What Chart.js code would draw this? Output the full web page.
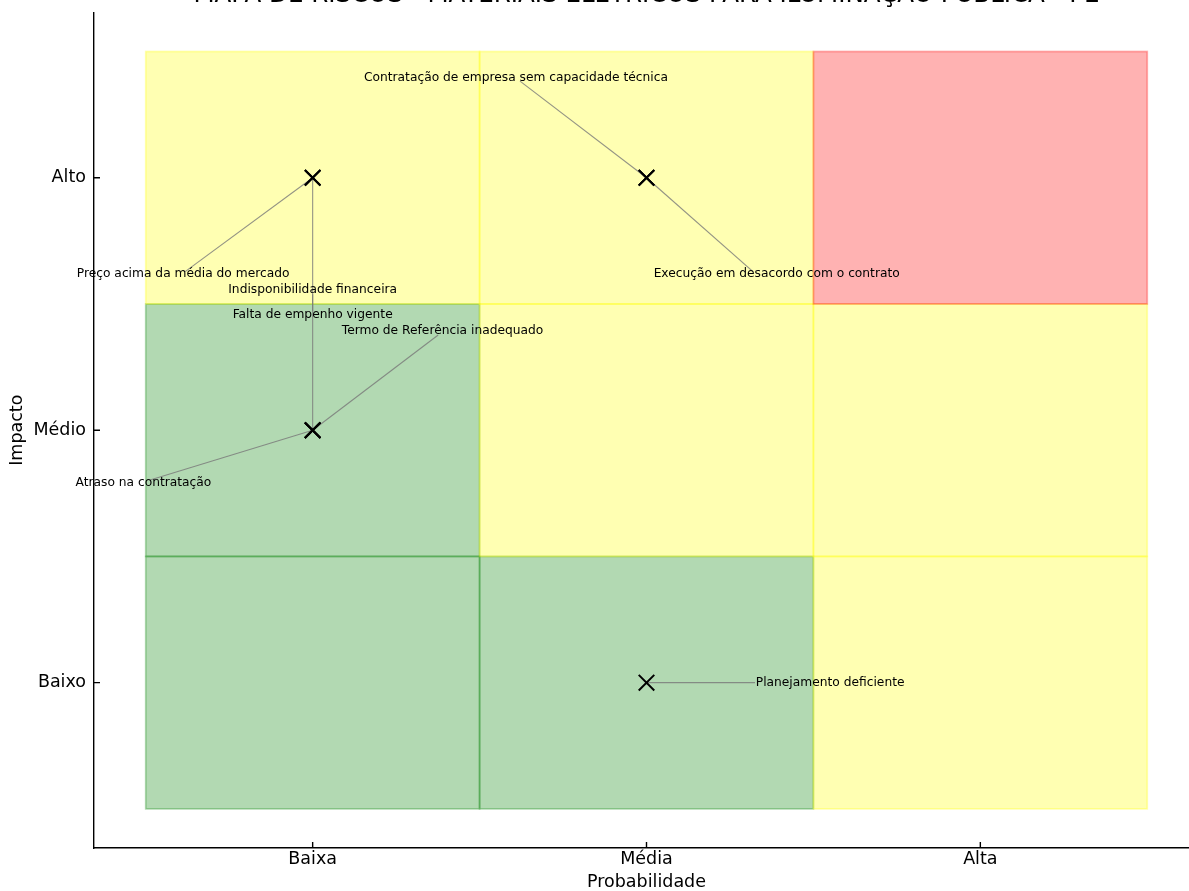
<!DOCTYPE html>
<html lang="pt">
<head>
<meta charset="utf-8">
<title>Mapa de riscos</title>
<script src="https://cdn.jsdelivr.net/npm/chart.js@4.4.1/dist/chart.umd.min.js"></script>
<style>
  html, body { margin: 0; padding: 0; background: #fff; overflow: hidden; }
  #wrap { position: absolute; left: 0; top: -19px; width: 1220px; height: 913px; }
</style>
</head>
<body>
<div id="wrap"><canvas id="riskChart" width="1220" height="913"></canvas></div>
<script>
const chartTitle = 'MAPA DE RISCOS - MATERIAIS ELÉTRICOS PARA ILUMINAÇÃO PÚBLICA - PE';
const probLabels = ['Baixa', 'Média', 'Alta'];
const impactLabels = ['Baixo', 'Médio', 'Alto'];

const riskNames = [
  'Atraso na contratação',
  'Preço acima da média do mercado',
  'Indisponibilidade financeira',
  'Falta de empenho vigente',
  'Termo de Referência inadequado',
  'Contratação de empresa sem capacidade técnica',
  'Execução em desacordo com o contrato',
  'Planejamento deficiente'
];
const riskProb   = [1, 1, 1, 1, 1, 2, 2, 2];
const riskImpact = [2, 3, 2, 3, 2, 3, 3, 1];

// rows = impacto (Baixo -> Alto), cols = probabilidade (Baixa -> Alta)
const cellLevels = [
  ['baixo', 'baixo', 'medio'],
  ['baixo', 'medio', 'medio'],
  ['medio', 'medio', 'alto']
];
const levelColors = {
  baixo: 'rgba(0,128,0,0.3)',
  medio: 'rgba(255,255,0,0.3)',
  alto:  'rgba(255,0,0,0.3)'
};

// label placement, offsets from the point in axis units
const labelDx  = [-0.507, -0.388, 0.0,   0.0,   0.389, -0.391, 0.390, 0.550];
const labelDy  = [-0.208, -0.382, 0.555, -0.544, 0.394, 0.394, -0.382, 0.0];
const leaderDx = [-0.487, -0.382, 0.0,   0.0,   0.376, -0.379, 0.319, 0.325];
const leaderDy = [-0.197, -0.372, 0.539, -0.529, 0.377, 0.383, -0.372, 0.0];

const FONT = "'DejaVu Sans', sans-serif";
Chart.defaults.font.family = FONT;
Chart.defaults.color = '#000';

const riskMatrix = {
  id: 'riskMatrix',
  beforeDatasetsDraw(chart) {
    const { ctx, scales: { x, y } } = chart;
    ctx.save();
    cellLevels.forEach((row, r) => {
      row.forEach((level, c) => {
        const left = x.getPixelForValue(c + 0.5);
        const right = x.getPixelForValue(c + 1.5);
        const top = y.getPixelForValue(r + 1.5);
        const bottom = y.getPixelForValue(r + 0.5);
        ctx.fillStyle = levelColors[level];
        ctx.strokeStyle = levelColors[level];
        ctx.lineWidth = 1.75;
        ctx.fillRect(left, top, right - left, bottom - top);
        ctx.strokeRect(left, top, right - left, bottom - top);
      });
    });

    // leader lines
    ctx.strokeStyle = 'rgba(120,120,120,0.8)';
    ctx.lineWidth = 1.1;
    riskNames.forEach((name, i) => {
      ctx.beginPath();
      ctx.moveTo(x.getPixelForValue(riskProb[i]), y.getPixelForValue(riskImpact[i]));
      ctx.lineTo(x.getPixelForValue(riskProb[i] + leaderDx[i]), y.getPixelForValue(riskImpact[i] + leaderDy[i]));
      ctx.stroke();
    });
    ctx.restore();
  },
  afterDatasetsDraw(chart) {
    const { ctx, chartArea, scales: { x, y } } = chart;
    ctx.save();
    ctx.font = '12.25px ' + FONT;
    ctx.fillStyle = '#000';
    ctx.textAlign = 'center';
    ctx.textBaseline = 'middle';
    riskNames.forEach((name, i) => {
      ctx.fillText(name,
        x.getPixelForValue(riskProb[i] + labelDx[i]),
        y.getPixelForValue(riskImpact[i] + labelDy[i]));
    });

    // inward tick marks
    ctx.strokeStyle = '#000';
    ctx.lineWidth = 1.4;
    ctx.beginPath();
    x.ticks.forEach(t => {
      const px = x.getPixelForValue(t.value);
      ctx.moveTo(px, chartArea.bottom);
      ctx.lineTo(px, chartArea.bottom - 6);
    });
    y.ticks.forEach(t => {
      const py = y.getPixelForValue(t.value);
      ctx.moveTo(chartArea.left, py);
      ctx.lineTo(chartArea.left + 6, py);
    });
    ctx.stroke();
    ctx.restore();
  }
};

const ctx = document.getElementById('riskChart').getContext('2d');
new Chart(ctx, {
  type: 'scatter',
  data: {
    datasets: [{
      data: riskProb.map((p, i) => ({ x: p, y: riskImpact[i] })),
      pointStyle: 'crossRot',
      pointRadius: 11,
      pointHoverRadius: 11,
      borderColor: '#000',
      backgroundColor: '#000',
      borderWidth: 2
    }]
  },
  options: {
    responsive: false,
    animation: false,
    layout: { padding: { left: 0, right: 21, top: 0, bottom: 0 } },
    plugins: {
      legend: { display: false },
      tooltip: { enabled: false },
      title: {
        display: true,
        fullSize: false,
        text: chartTitle,
        color: '#000',
        font: { size: 24.5, weight: 'normal', lineHeight: 1.2 },
        padding: { top: 0, bottom: 2 }
      }
    },
    scales: {
      x: {
        type: 'linear',
        min: 0.345,
        max: 3.655,
        afterBuildTicks: s => { s.ticks = probLabels.map((_, i) => ({ value: i + 1 })); },
        afterFit: s => { s.height = 46; },
        ticks: {
          callback: v => probLabels[Math.round(v) - 1],
          font: { size: 17.5 },
          color: '#000',
          padding: 1
        },
        grid: { display: false, drawTicks: false },
        border: { display: true, color: '#000', width: 1.4 },
        title: {
          display: true,
          text: 'Probabilidade',
          color: '#000',
          font: { size: 17.5, lineHeight: 1.2 },
          padding: { top: 0, bottom: 1 }
        }
      },
      y: {
        type: 'linear',
        min: 0.345,
        max: 3.655,
        afterBuildTicks: s => { s.ticks = impactLabels.map((_, i) => ({ value: i + 1 })); },
        afterFit: s => { s.width = 94; },
        ticks: {
          callback: v => impactLabels[Math.round(v) - 1],
          font: { size: 17.5 },
          color: '#000',
          padding: 8
        },
        grid: { display: false, drawTicks: false },
        border: { display: true, color: '#000', width: 1.4 },
        title: {
          display: true,
          text: 'Impacto',
          color: '#000',
          font: { size: 17.5, lineHeight: 1.2 },
          padding: { top: 7, bottom: 0 }
        }
      }
    }
  },
  plugins: [riskMatrix]
});
</script>
</body>
</html>
